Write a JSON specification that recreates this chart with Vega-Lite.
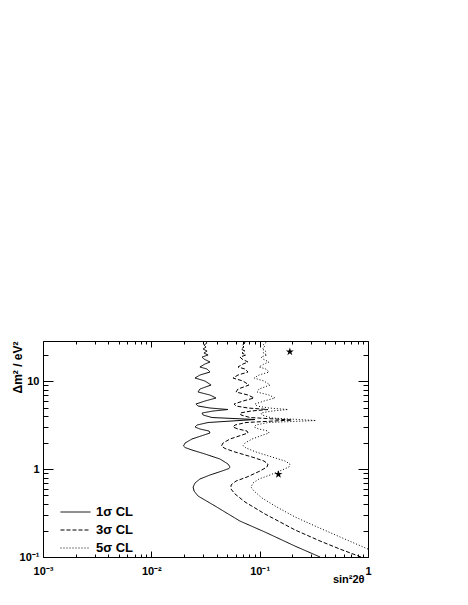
{
  "$schema": "https://vega.github.io/schema/vega-lite/v6.json",
  "width": 325,
  "height": 216,
  "autosize": {"type": "none"},
  "padding": {"left": 43, "top": 341, "right": 100, "bottom": 48},
  "background": "white",
  "config": {
    "view": {"stroke": null},
    "font": "Liberation Sans",
    "axis": {
      "domainColor": "black", "tickColor": "black", "labelColor": "black", "titleColor": "black",
      "labelFont": "Liberation Sans", "labelFontWeight": "bold", "labelFontSize": 11,
      "titleFont": "Liberation Sans", "titleFontWeight": "bold", "titleFontSize": 12,
      "grid": false, "domainWidth": 1, "tickWidth": 1
    }
  },
  "datasets": {
    "curves": [
      {"s2t":0.3606,"dm2":0.1,"cl":"1σ CL"},{"s2t":0.2120,"dm2":0.133,"cl":"1σ CL"},{"s2t":0.1120,"dm2":0.192,"cl":"1σ CL"},{"s2t":0.0658,"dm2":0.256,"cl":"1σ CL"},{"s2t":0.0387,"dm2":0.380,"cl":"1σ CL"},{"s2t":0.0270,"dm2":0.493,"cl":"1σ CL"},{"s2t":0.0248,"dm2":0.562,"cl":"1σ CL"},{"s2t":0.0243,"dm2":0.624,"cl":"1σ CL"},{"s2t":0.0253,"dm2":0.693,"cl":"1σ CL"},{"s2t":0.0281,"dm2":0.770,"cl":"1σ CL"},{"s2t":0.0348,"dm2":0.855,"cl":"1σ CL"},{"s2t":0.0449,"dm2":0.949,"cl":"1σ CL"},{"s2t":0.0521,"dm2":1.013,"cl":"1σ CL"},{"s2t":0.0532,"dm2":1.054,"cl":"1σ CL"},{"s2t":0.0510,"dm2":1.140,"cl":"1σ CL"},{"s2t":0.0430,"dm2":1.299,"cl":"1σ CL"},{"s2t":0.0313,"dm2":1.481,"cl":"1σ CL"},{"s2t":0.0237,"dm2":1.644,"cl":"1σ CL"},{"s2t":0.0205,"dm2":1.755,"cl":"1σ CL"},{"s2t":0.0198,"dm2":1.826,"cl":"1σ CL"},{"s2t":0.0205,"dm2":1.974,"cl":"1σ CL"},{"s2t":0.0237,"dm2":2.192,"cl":"1σ CL"},{"s2t":0.0306,"dm2":2.434,"cl":"1σ CL"},{"s2t":0.0348,"dm2":2.565,"cl":"1σ CL"},{"s2t":0.0341,"dm2":2.703,"cl":"1σ CL"},{"s2t":0.0281,"dm2":2.848,"cl":"1σ CL"},{"s2t":0.0253,"dm2":3.001,"cl":"1σ CL"},{"s2t":0.0264,"dm2":3.162,"cl":"1σ CL"},{"s2t":0.0334,"dm2":3.376,"cl":"1σ CL"},{"s2t":0.0906,"dm2":3.652,"cl":"1σ CL"},{"s2t":0.0363,"dm2":3.848,"cl":"1σ CL"},{"s2t":0.0300,"dm2":4.108,"cl":"1σ CL"},{"s2t":0.0294,"dm2":4.329,"cl":"1σ CL"},{"s2t":0.0371,"dm2":4.561,"cl":"1σ CL"},{"s2t":0.0510,"dm2":4.744,"cl":"1σ CL"},{"s2t":0.0348,"dm2":4.934,"cl":"1σ CL"},{"s2t":0.0270,"dm2":5.199,"cl":"1σ CL"},{"s2t":0.0258,"dm2":5.479,"cl":"1σ CL"},{"s2t":0.0313,"dm2":5.926,"cl":"1σ CL"},{"s2t":0.0395,"dm2":6.410,"cl":"1σ CL"},{"s2t":0.0348,"dm2":6.934,"cl":"1σ CL"},{"s2t":0.0270,"dm2":7.499,"cl":"1σ CL"},{"s2t":0.0281,"dm2":8.111,"cl":"1σ CL"},{"s2t":0.0356,"dm2":9.005,"cl":"1σ CL"},{"s2t":0.0313,"dm2":10.0,"cl":"1σ CL"},{"s2t":0.0253,"dm2":10.82,"cl":"1σ CL"},{"s2t":0.0281,"dm2":11.70,"cl":"1σ CL"},{"s2t":0.0348,"dm2":12.66,"cl":"1σ CL"},{"s2t":0.0327,"dm2":13.69,"cl":"1σ CL"},{"s2t":0.0281,"dm2":14.43,"cl":"1σ CL"},{"s2t":0.0313,"dm2":15.61,"cl":"1σ CL"},{"s2t":0.0348,"dm2":16.44,"cl":"1σ CL"},{"s2t":0.0306,"dm2":17.78,"cl":"1σ CL"},{"s2t":0.0294,"dm2":18.74,"cl":"1σ CL"},{"s2t":0.0334,"dm2":19.74,"cl":"1σ CL"},{"s2t":0.0306,"dm2":20.81,"cl":"1σ CL"},{"s2t":0.0327,"dm2":21.92,"cl":"1σ CL"},{"s2t":0.0300,"dm2":23.10,"cl":"1σ CL"},{"s2t":0.0320,"dm2":24.34,"cl":"1σ CL"},{"s2t":0.0306,"dm2":25.65,"cl":"1σ CL"},{"s2t":0.0327,"dm2":27.03,"cl":"1σ CL"},{"s2t":0.0313,"dm2":28.48,"cl":"1σ CL"},

      {"s2t":0.862,"dm2":0.1,"cl":"3σ CL"},{"s2t":0.5515,"dm2":0.123,"cl":"3σ CL"},{"s2t":0.3606,"dm2":0.152,"cl":"3σ CL"},{"s2t":0.2120,"dm2":0.203,"cl":"3σ CL"},{"s2t":0.1120,"dm2":0.308,"cl":"3σ CL"},{"s2t":0.0732,"dm2":0.422,"cl":"3σ CL"},{"s2t":0.0592,"dm2":0.520,"cl":"3σ CL"},{"s2t":0.0544,"dm2":0.592,"cl":"3σ CL"},{"s2t":0.0544,"dm2":0.658,"cl":"3σ CL"},{"s2t":0.0605,"dm2":0.730,"cl":"3σ CL"},{"s2t":0.0764,"dm2":0.811,"cl":"3σ CL"},{"s2t":0.1007,"dm2":0.949,"cl":"3σ CL"},{"s2t":0.1169,"dm2":1.054,"cl":"3σ CL"},{"s2t":0.1194,"dm2":1.140,"cl":"3σ CL"},{"s2t":0.1096,"dm2":1.233,"cl":"3σ CL"},{"s2t":0.0850,"dm2":1.369,"cl":"3σ CL"},{"s2t":0.0592,"dm2":1.561,"cl":"3σ CL"},{"s2t":0.0479,"dm2":1.710,"cl":"3σ CL"},{"s2t":0.0444,"dm2":1.826,"cl":"3σ CL"},{"s2t":0.0459,"dm2":1.974,"cl":"3σ CL"},{"s2t":0.0532,"dm2":2.192,"cl":"3σ CL"},{"s2t":0.0687,"dm2":2.434,"cl":"3σ CL"},{"s2t":0.0781,"dm2":2.565,"cl":"3σ CL"},{"s2t":0.0764,"dm2":2.703,"cl":"3σ CL"},{"s2t":0.0631,"dm2":2.848,"cl":"3σ CL"},{"s2t":0.0567,"dm2":3.001,"cl":"3σ CL"},{"s2t":0.0592,"dm2":3.162,"cl":"3σ CL"},{"s2t":0.0748,"dm2":3.376,"cl":"3σ CL"},{"s2t":0.1989,"dm2":3.604,"cl":"3σ CL"},{"s2t":0.0814,"dm2":3.848,"cl":"3σ CL"},{"s2t":0.0673,"dm2":4.108,"cl":"3σ CL"},{"s2t":0.0658,"dm2":4.329,"cl":"3σ CL"},{"s2t":0.0832,"dm2":4.561,"cl":"3σ CL"},{"s2t":0.1194,"dm2":4.744,"cl":"3σ CL"},{"s2t":0.0781,"dm2":4.934,"cl":"3σ CL"},{"s2t":0.0605,"dm2":5.199,"cl":"3σ CL"},{"s2t":0.0580,"dm2":5.479,"cl":"3σ CL"},{"s2t":0.0702,"dm2":5.926,"cl":"3σ CL"},{"s2t":0.0887,"dm2":6.410,"cl":"3σ CL"},{"s2t":0.0781,"dm2":6.934,"cl":"3σ CL"},{"s2t":0.0605,"dm2":7.499,"cl":"3σ CL"},{"s2t":0.0631,"dm2":8.111,"cl":"3σ CL"},{"s2t":0.0797,"dm2":9.005,"cl":"3σ CL"},{"s2t":0.0702,"dm2":10.0,"cl":"3σ CL"},{"s2t":0.0567,"dm2":10.82,"cl":"3σ CL"},{"s2t":0.0631,"dm2":11.70,"cl":"3σ CL"},{"s2t":0.0781,"dm2":12.66,"cl":"3σ CL"},{"s2t":0.0732,"dm2":13.69,"cl":"3σ CL"},{"s2t":0.0631,"dm2":14.43,"cl":"3σ CL"},{"s2t":0.0702,"dm2":15.61,"cl":"3σ CL"},{"s2t":0.0781,"dm2":16.44,"cl":"3σ CL"},{"s2t":0.0687,"dm2":17.78,"cl":"3σ CL"},{"s2t":0.0658,"dm2":18.74,"cl":"3σ CL"},{"s2t":0.0748,"dm2":19.74,"cl":"3σ CL"},{"s2t":0.0687,"dm2":20.81,"cl":"3σ CL"},{"s2t":0.0732,"dm2":21.92,"cl":"3σ CL"},{"s2t":0.0673,"dm2":23.10,"cl":"3σ CL"},{"s2t":0.0717,"dm2":24.34,"cl":"3σ CL"},{"s2t":0.0687,"dm2":25.65,"cl":"3σ CL"},{"s2t":0.0732,"dm2":27.03,"cl":"3σ CL"},{"s2t":0.0717,"dm2":28.48,"cl":"3σ CL"},

      {"s2t":1.0,"dm2":0.123,"cl":"5σ CL"},{"s2t":0.5515,"dm2":0.169,"cl":"5σ CL"},{"s2t":0.3243,"dm2":0.225,"cl":"5σ CL"},{"s2t":0.2120,"dm2":0.285,"cl":"5σ CL"},{"s2t":0.1386,"dm2":0.380,"cl":"5σ CL"},{"s2t":0.1051,"dm2":0.468,"cl":"5σ CL"},{"s2t":0.0887,"dm2":0.562,"cl":"5σ CL"},{"s2t":0.0832,"dm2":0.624,"cl":"5σ CL"},{"s2t":0.0868,"dm2":0.693,"cl":"5σ CL"},{"s2t":0.0986,"dm2":0.770,"cl":"5σ CL"},{"s2t":0.1246,"dm2":0.855,"cl":"5σ CL"},{"s2t":0.1608,"dm2":0.974,"cl":"5σ CL"},{"s2t":0.1866,"dm2":1.054,"cl":"5σ CL"},{"s2t":0.1906,"dm2":1.140,"cl":"5σ CL"},{"s2t":0.1714,"dm2":1.233,"cl":"5σ CL"},{"s2t":0.1300,"dm2":1.369,"cl":"5σ CL"},{"s2t":0.0925,"dm2":1.561,"cl":"5σ CL"},{"s2t":0.0748,"dm2":1.733,"cl":"5σ CL"},{"s2t":0.0702,"dm2":1.849,"cl":"5σ CL"},{"s2t":0.0732,"dm2":1.974,"cl":"5σ CL"},{"s2t":0.0850,"dm2":2.192,"cl":"5σ CL"},{"s2t":0.1073,"dm2":2.434,"cl":"5σ CL"},{"s2t":0.1220,"dm2":2.565,"cl":"5σ CL"},{"s2t":0.1194,"dm2":2.703,"cl":"5σ CL"},{"s2t":0.0986,"dm2":2.848,"cl":"5σ CL"},{"s2t":0.0887,"dm2":3.001,"cl":"5σ CL"},{"s2t":0.0925,"dm2":3.162,"cl":"5σ CL"},{"s2t":0.1194,"dm2":3.376,"cl":"5σ CL"},{"s2t":0.3313,"dm2":3.557,"cl":"5σ CL"},{"s2t":0.1300,"dm2":3.798,"cl":"5σ CL"},{"s2t":0.1051,"dm2":4.108,"cl":"5σ CL"},{"s2t":0.1029,"dm2":4.329,"cl":"5σ CL"},{"s2t":0.1300,"dm2":4.561,"cl":"5σ CL"},{"s2t":0.1827,"dm2":4.744,"cl":"5σ CL"},{"s2t":0.1220,"dm2":4.934,"cl":"5σ CL"},{"s2t":0.0945,"dm2":5.199,"cl":"5σ CL"},{"s2t":0.0906,"dm2":5.479,"cl":"5σ CL"},{"s2t":0.1096,"dm2":5.926,"cl":"5σ CL"},{"s2t":0.1386,"dm2":6.410,"cl":"5σ CL"},{"s2t":0.1220,"dm2":6.934,"cl":"5σ CL"},{"s2t":0.0945,"dm2":7.499,"cl":"5σ CL"},{"s2t":0.0986,"dm2":8.111,"cl":"5σ CL"},{"s2t":0.1246,"dm2":9.005,"cl":"5σ CL"},{"s2t":0.1096,"dm2":10.0,"cl":"5σ CL"},{"s2t":0.0887,"dm2":10.82,"cl":"5σ CL"},{"s2t":0.0986,"dm2":11.70,"cl":"5σ CL"},{"s2t":0.1220,"dm2":12.66,"cl":"5σ CL"},{"s2t":0.1144,"dm2":13.69,"cl":"5σ CL"},{"s2t":0.0986,"dm2":14.43,"cl":"5σ CL"},{"s2t":0.1096,"dm2":15.61,"cl":"5σ CL"},{"s2t":0.1220,"dm2":16.44,"cl":"5σ CL"},{"s2t":0.1073,"dm2":17.78,"cl":"5σ CL"},{"s2t":0.1029,"dm2":18.74,"cl":"5σ CL"},{"s2t":0.1169,"dm2":19.74,"cl":"5σ CL"},{"s2t":0.1073,"dm2":20.81,"cl":"5σ CL"},{"s2t":0.1144,"dm2":21.92,"cl":"5σ CL"},{"s2t":0.1051,"dm2":23.10,"cl":"5σ CL"},{"s2t":0.1120,"dm2":24.34,"cl":"5σ CL"},{"s2t":0.1073,"dm2":25.65,"cl":"5σ CL"},{"s2t":0.1144,"dm2":27.03,"cl":"5σ CL"},{"s2t":0.1120,"dm2":28.48,"cl":"5σ CL"}
    ],
    "stars": [
      {"s2t": 0.19, "dm2": 21.5},
      {"s2t": 0.149, "dm2": 0.87}
    ]
  },
  "resolve": {"axis": {"x": "independent", "y": "independent"}},
  "layer": [
    {
      "data": {"name": "curves"},
      "transform": [{"filter": "datum.cl === '1σ CL'"}],
      "mark": {"type": "line", "color": "black", "strokeWidth": 1, "clip": true},
      "encoding": {
        "x": {"field": "s2t", "type": "quantitative", "scale": {"type": "log", "domain": [0.001, 1], "nice": false},
          "axis": {"orient": "bottom", "values": [0.001, 0.01, 0.1, 1],
            "labelExpr": "datum.value >= 0.5 ? '1' : datum.value < 0.002 ? '10⁻³' : datum.value < 0.02 ? '10⁻²' : '10⁻¹'",
            "tickSize": -6, "labelPadding": 14, "labelBaseline": "top", "labelFlush": false,
            "title": "sin²2θ", "titleFontSize": 11, "titleAnchor": "end", "titleAlign": "right", "titleBaseline": "alphabetic", "titleX": 321, "titleY": 25}},
        "y": {"field": "dm2", "type": "quantitative", "scale": {"type": "log", "domain": [0.1, 28.5], "nice": false},
          "axis": {"orient": "left", "values": [0.1, 1, 10],
            "labelExpr": "datum.value < 0.5 ? '10⁻¹' : datum.value < 5 ? '1' : '10'",
            "tickSize": -10, "labelPadding": 14, "labelFlush": false,
            "title": "Δm² / eV²", "titleAngle": -90, "titleAnchor": "end", "titleAlign": "right", "titleBaseline": "alphabetic", "titleX": -22, "titleY": 0}},
        "strokeDash": {"field": "cl", "type": "nominal",
          "scale": {"domain": ["1σ CL", "3σ CL", "5σ CL"], "range": [[1, 0], [4, 2], [1, 2]]},
          "legend": {"orient": "none", "legendX": 17, "legendY": 162, "title": null, "symbolType": "stroke", "symbolSize": 900, "symbolStrokeWidth": 1, "symbolStrokeColor": "black", "labelFont": "Liberation Sans", "labelFontWeight": "bold", "labelFontSize": 13, "labelColor": "black", "labelOffset": 5, "clipHeight": 18, "rowPadding": 0, "padding": 0}},
        "order": {"field": "dm2", "type": "quantitative"}
      }
    },
    {
      "data": {"name": "curves"},
      "transform": [{"filter": "datum.cl === '3σ CL'"}],
      "mark": {"type": "line", "color": "black", "strokeWidth": 1, "clip": true},
      "encoding": {
        "x": {"field": "s2t", "type": "quantitative", "scale": {"type": "log", "domain": [0.001, 1], "nice": false},
          "axis": {"orient": "bottom", "values": [0.002,0.003,0.004,0.005,0.006,0.007,0.008,0.009,0.02,0.03,0.04,0.05,0.06,0.07,0.08,0.09,0.2,0.3,0.4,0.5,0.6,0.7,0.8,0.9], "labels": false, "domain": false, "tickSize": -3, "title": null}},
        "y": {"field": "dm2", "type": "quantitative", "scale": {"type": "log", "domain": [0.1, 28.5], "nice": false},
          "axis": {"orient": "left", "values": [0.2,0.3,0.4,0.5,0.6,0.7,0.8,0.9,2,3,4,5,6,7,8,9,20], "labels": false, "domain": false, "tickSize": -5, "title": null}},
        "strokeDash": {"field": "cl", "type": "nominal", "scale": {"domain": ["1σ CL", "3σ CL", "5σ CL"], "range": [[1, 0], [4, 2], [1, 2]]}},
        "order": {"field": "dm2", "type": "quantitative"}
      }
    },
    {
      "data": {"name": "curves"},
      "transform": [{"filter": "datum.cl === '5σ CL'"}],
      "mark": {"type": "line", "color": "black", "strokeWidth": 1, "clip": true},
      "encoding": {
        "x": {"field": "s2t", "type": "quantitative", "scale": {"type": "log", "domain": [0.001, 1], "nice": false},
          "axis": {"orient": "top", "values": [0.001, 0.01, 0.1, 1], "labels": false, "tickSize": -6, "title": null}},
        "y": {"field": "dm2", "type": "quantitative", "scale": {"type": "log", "domain": [0.1, 28.5], "nice": false},
          "axis": {"orient": "right", "values": [0.1, 1, 10], "labels": false, "tickSize": -10, "title": null}},
        "strokeDash": {"field": "cl", "type": "nominal", "scale": {"domain": ["1σ CL", "3σ CL", "5σ CL"], "range": [[1, 0], [4, 2], [1, 2]]}},
        "order": {"field": "dm2", "type": "quantitative"}
      }
    },
    {
      "data": {"name": "stars"},
      "mark": {"type": "point", "shape": "M0,-1L0.2245,-0.309L0.951,-0.309L0.363,0.118L0.588,0.809L0,0.382L-0.588,0.809L-0.363,0.118L-0.951,-0.309L-0.2245,-0.309Z", "filled": true, "color": "black", "opacity": 1, "size": 70, "strokeWidth": 0},
      "encoding": {
        "x": {"field": "s2t", "type": "quantitative", "scale": {"type": "log", "domain": [0.001, 1], "nice": false},
          "axis": {"orient": "top", "values": [0.002,0.003,0.004,0.005,0.006,0.007,0.008,0.009,0.02,0.03,0.04,0.05,0.06,0.07,0.08,0.09,0.2,0.3,0.4,0.5,0.6,0.7,0.8,0.9], "labels": false, "domain": false, "tickSize": -3, "title": null}},
        "y": {"field": "dm2", "type": "quantitative", "scale": {"type": "log", "domain": [0.1, 28.5], "nice": false},
          "axis": {"orient": "right", "values": [0.2,0.3,0.4,0.5,0.6,0.7,0.8,0.9,2,3,4,5,6,7,8,9,20], "labels": false, "domain": false, "tickSize": -5, "title": null}}
      }
    }
  ]
}
